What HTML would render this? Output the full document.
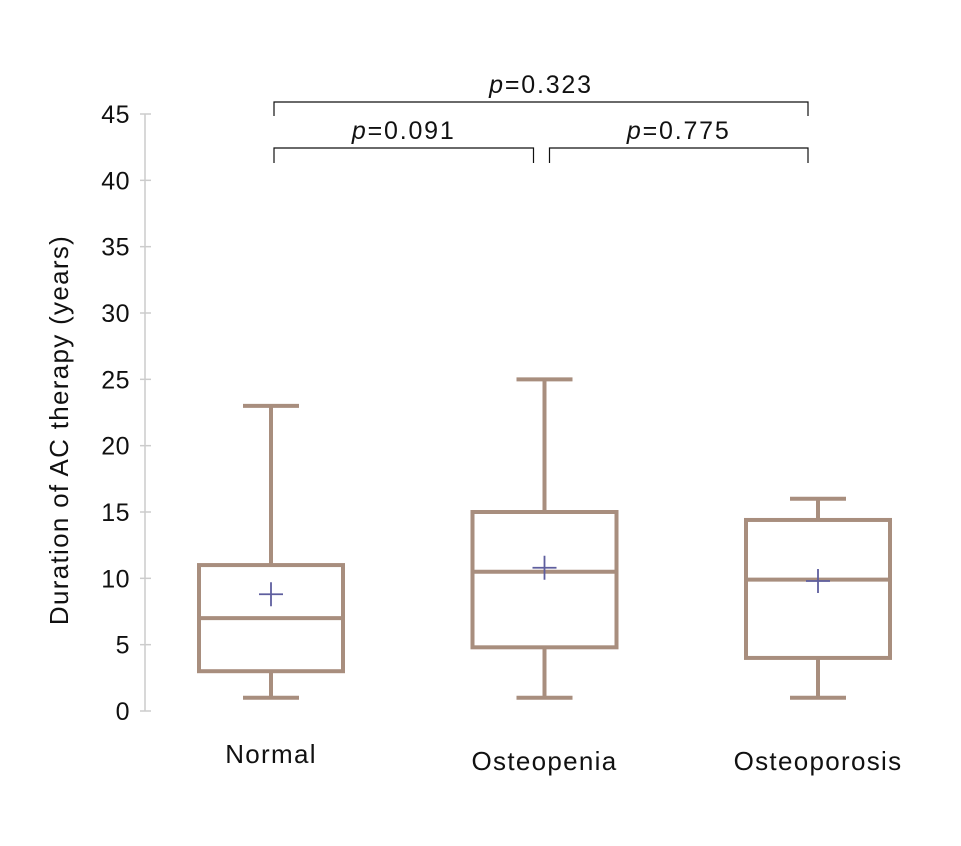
<!DOCTYPE html>
<html><head><meta charset="utf-8"><style>
body{margin:0;background:#fff}
svg text{font-family:"Liberation Sans","DejaVu Sans",sans-serif;fill:#111}
</style></head><body>
<svg id="c" width="961" height="841">
<g id="axis"></g>
<g id="boxes"></g>
<g id="brackets"></g>
<text x="68" y="430" font-size="26" letter-spacing="1.3" text-anchor="middle" transform="rotate(-90 68 430)">Duration of AC therapy (years)</text>
</svg>
<script>
const categories=["Normal","Osteopenia","Osteoporosis"];
const mins=[1,1,1];
const q1s=[3,4.8,4];
const medians=[7,10.5,9.9];
const q3s=[11,15,14.4];
const maxs=[23,25,16];
const means=[8.8,10.8,9.8];
const yTicks=[0,5,10,15,20,25,30,35,40,45];
const pairs=[[0,1,"0.091",0],[1,2,"0.775",0],[0,2,"0.323",1]];
const NS="http://www.w3.org/2000/svg";
const y=v=>711-v*(597/45);
const cx=i=>271+i*273.5;
function mk(p,tag,a,txt){const e=document.createElementNS(NS,tag);for(const k in a)e.setAttribute(k,a[k]);if(txt!=null)e.textContent=txt;p.appendChild(e);return e;}
const ax=document.getElementById('axis');
mk(ax,'line',{x1:145,x2:145,y1:y(45),y2:y(0),stroke:'#ccc','stroke-width':1.5});
yTicks.forEach(t=>{
 mk(ax,'line',{x1:140,x2:151,y1:y(t),y2:y(t),stroke:'#ccc','stroke-width':1.5});
 const tx=mk(ax,'text',{x:130,y:y(t)+9,'font-size':25,'letter-spacing':0.5,'text-anchor':'end'},t);
 
 
});
const bx=document.getElementById('boxes');
const col='#a88e7e',mc='#5e5e9e';
categories.forEach((c,i)=>{
 const x=cx(i);
 const g=mk(bx,'g',{});
 
 
 const s={stroke:col,'stroke-width':4,fill:'none'};
 mk(g,'line',Object.assign({x1:x,x2:x,y1:y(maxs[i]),y2:y(q3s[i])},s));
 mk(g,'line',Object.assign({x1:x,x2:x,y1:y(q1s[i]),y2:y(mins[i])},s));
 mk(g,'line',Object.assign({x1:x-28,x2:x+28,y1:y(maxs[i]),y2:y(maxs[i])},s));
 mk(g,'line',Object.assign({x1:x-28,x2:x+28,y1:y(mins[i]),y2:y(mins[i])},s));
 mk(g,'rect',Object.assign({x:x-72,y:y(q3s[i]),width:144,height:y(q1s[i])-y(q3s[i])},s));
 mk(g,'line',Object.assign({x1:x-72,x2:x+72,y1:y(medians[i]),y2:y(medians[i])},s));
 mk(g,'path',{d:`M${x-12} ${y(means[i])}h24M${x} ${y(means[i])-12}v24`,stroke:mc,'stroke-width':1.8});
 const t=mk(g,'text',{x:x,y:763+(i?7:0),'font-size':26,'letter-spacing':1.3,'text-anchor':'middle'},c);
 
 
});
const br=document.getElementById('brackets');
pairs.forEach(p=>{
 const top=p[3]?102:148, leg=p[3]?14:15;
 const a=cx(p[0])+(p[0]===1?5:3), b=cx(p[1])+(p[1]===1?-11:-10);
 const g=mk(br,'g',{});
 
 
 mk(g,'path',{d:`M${a} ${top+leg}V${top}H${b}V${top+leg}`,stroke:'#111','stroke-width':1.2,fill:'none'});
 const t=mk(g,'text',{x:(a+b)/2,y:top-9,'font-size':25,'letter-spacing':1.8,'text-anchor':'middle'});
 mk(t,'tspan',{'font-style':'italic'},'p');
 mk(t,'tspan',{},'='+p[2]);
});
</script>
</body></html>
